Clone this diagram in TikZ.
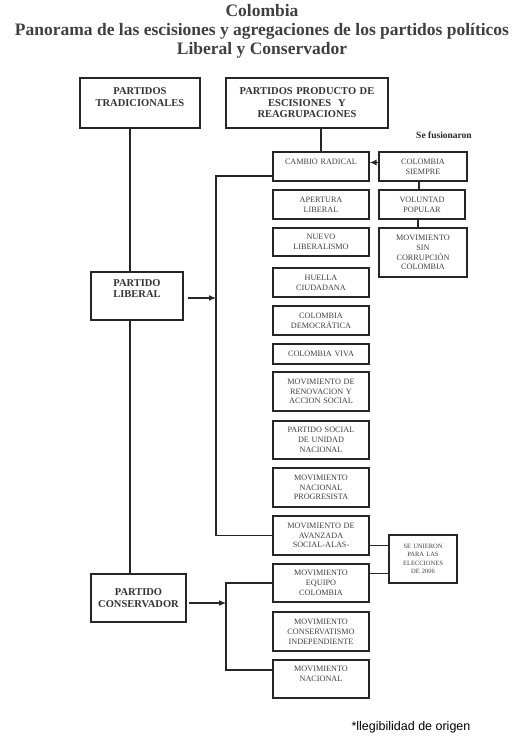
\documentclass[tikz,border=0pt]{standalone}
\usepackage{fontspec}
\setmainfont{Liberation Serif}
\newfontfamily\notefont{Liberation Sans}
\usepackage{tikz}
\usetikzlibrary{arrows.meta}
\tikzset{>={Latex[width=6pt,length=7pt]}}
\tikzset{
  headbox/.style={shape=rectangle,draw=black!85,line width=1.4pt,fill=white,align=center,text=black!80,
    font=\fontsize{10.5}{11.5}\selectfont\bfseries,inner sep=2pt},
  partybox/.style={shape=rectangle,draw=black!85,line width=1.3pt,fill=white,align=center,text=black!75,
    font=\fontsize{8.2}{9.8}\selectfont,inner sep=1pt},
  joinline/.style={draw=black!85,line width=1.1pt}
}

\begin{document}
\begin{tikzpicture}

\useasboundingbox (0pt,0pt) rectangle (524pt,-739pt);

\path (262pt,-31pt) node (title) [font=\fontsize{17.5}{19}\selectfont\bfseries,align=center,text=black!75]{Colombia\\Panorama de las escisiones y agregaciones de los partidos políticos\\Liberal y Conservador};

\path (140pt,-103pt) node (trad) [headbox,minimum height=50pt,minimum width=120pt,text width=114pt]{PARTIDOS\\TRADICIONALES\\[0pt]\mbox{}};

\path (307pt,-103pt) node (prod) [headbox,minimum height=50pt,minimum width=162pt,text width=156pt]{PARTIDOS PRODUCTO DE\\ESCISIONES \ Y\\REAGRUPACIONES};

\path (137pt,-296pt) node (lib) [headbox,minimum height=48pt,minimum width=92pt,text width=86pt]{PARTIDO\\LIBERAL\\[3pt]\mbox{}};

\path (138.5pt,-598pt) node (cons) [headbox,minimum height=48pt,minimum width=95pt,text width=90pt]{PARTIDO\\CONSERVADOR};

\path (321pt,-166.5pt) node (cr) [partybox,minimum height=29pt,minimum width=96pt,text width=92pt]{CAMBIO RADICAL\\[0pt]\mbox{}};

\path (321pt,-204.5pt) node (al) [partybox,minimum height=29pt,minimum width=96pt,text width=92pt]{APERTURA\\LIBERAL};

\path (321pt,-242pt) node (nl) [partybox,minimum height=28pt,minimum width=96pt,text width=92pt]{NUEVO\\LIBERALISMO};

\path (321pt,-282.5pt) node (hc) [partybox,minimum height=29pt,minimum width=96pt,text width=92pt]{HUELLA\\CIUDADANA};

\path (321pt,-320.5pt) node (cd) [partybox,minimum height=29pt,minimum width=96pt,text width=92pt]{COLOMBIA\\DEMOCRÁTICA};

\path (321pt,-354pt) node (cv) [partybox,minimum height=20pt,minimum width=96pt,text width=92pt]{COLOMBIA VIVA};

\path (321pt,-391.5pt) node (mr) [partybox,minimum height=39pt,minimum width=96pt,text width=92pt]{MOVIMIENTO DE\\RENOVACION Y\\ACCION SOCIAL};

\path (321pt,-440pt) node (ps) [partybox,minimum height=38pt,minimum width=96pt,text width=92pt]{PARTIDO SOCIAL\\DE UNIDAD\\NACIONAL};

\path (321pt,-487.5pt) node (mn) [partybox,minimum height=39pt,minimum width=96pt,text width=92pt]{MOVIMIENTO\\NACIONAL\\PROGRESISTA};

\path (321pt,-535.5pt) node (ma) [partybox,minimum height=39pt,minimum width=96pt,text width=92pt]{MOVIMIENTO DE\\AVANZADA\\SOCIAL-ALAS-};

\path (321pt,-583pt) node (me) [partybox,minimum height=38pt,minimum width=96pt,text width=92pt]{MOVIMIENTO\\EQUIPO\\COLOMBIA};

\path (321pt,-631.5pt) node (mc) [partybox,minimum height=39pt,minimum width=96pt,text width=92pt]{MOVIMIENTO\\CONSERVATISMO\\INDEPENDIENTE};

\path (321pt,-679pt) node (mnac) [partybox,minimum height=38pt,minimum width=96pt,text width=92pt]{MOVIMIENTO\\NACIONAL\\[0pt]\mbox{}};

\path (423pt,-166.5pt) node (cs) [partybox,minimum height=29pt,minimum width=88pt,text width=84pt]{COLOMBIA\\SIEMPRE};

\path (422pt,-204.5pt) node (vp) [partybox,minimum height=29pt,minimum width=86pt,text width=82pt]{VOLUNTAD\\POPULAR};

\path (423pt,-252.5pt) node (sc) [partybox,minimum height=49pt,minimum width=88pt,text width=84pt]{MOVIMIENTO\\SIN\\CORRUPCIÓN\\COLOMBIA};

\path (423pt,-559pt) node (su) [partybox,minimum height=48pt,minimum width=68pt,text width=64pt,font=\fontsize{6.5}{8.5}\selectfont]{SE UNIERON\\PARA LAS\\ELECCIONES\\DE 2006};

\path (444pt,-135pt) node (fus) [font=\fontsize{9.5}{11}\selectfont\bfseries,text=black!85]{Se fusionaron};

\path (411pt,-727pt) node (note) [font=\notefont\fontsize{12.5}{14}\selectfont]{*llegibilidad de origen};

\coordinate (spine) at (130pt,-128pt);
\coordinate (lbtop) at (216pt,-176pt);
\coordinate (lbbot) at (216pt,-535.5pt);
\coordinate (cbus) at (226pt,-603pt);

\draw[joinline] (spine |- trad.south) -- (spine |- lib.north);
\draw[joinline] (spine |- lib.south) -- (spine |- cons.north);
\draw[joinline] (prod.south -| cr.north) -- (cr.north);

\draw[joinline] (cr.west |- lbtop) -- (lbtop) -- (lbbot) -- (ma.west |- lbbot);
\draw[joinline,->] ([xshift=4pt,yshift=-2pt]lib.east) -- ([yshift=-2pt]lib.east -| lbtop);

\draw[joinline] (me.west) -| (cbus) |- ([yshift=9pt]mnac.west);
\draw[joinline,->] ([xshift=2pt,yshift=-5pt]cons.east) -- ([yshift=-5pt]cons.east -| cbus);

\draw[joinline,->] ([yshift=4pt]cs.west) -- ([yshift=4pt]cs.west -| cr.east);
\draw[joinline] ([xshift=-4pt]cs.south) -- ([xshift=-4pt]cs.south |- vp.north);
\draw[joinline] ([xshift=-4pt]vp.south) -- ([xshift=-4pt]vp.south |- sc.north);

\draw[joinline] ([yshift=-10pt]ma.east) -- ([yshift=-10pt]ma.east -| su.west);
\draw[joinline,line width=0.7pt] ([yshift=10pt]me.east) -- ([yshift=10pt]me.east -| su.west);

\end{tikzpicture}
\end{document}
